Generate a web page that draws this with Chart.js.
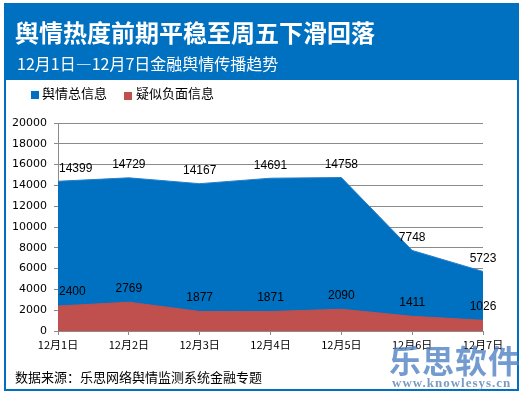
<!DOCTYPE html>
<html lang="zh">

<head>
    <meta charset="UTF-8">
    <title>舆情热度</title>
    <style>
        body { margin: 0; background: #fff; }
        #wrap { position: relative; width: 523px; height: 395px; overflow: hidden; font-family: "Noto Sans CJK SC", sans-serif; }
        #frame { position: absolute; left: 4px; top: 3px; width: 511px; height: 384px; border: 2px solid #0070C0; }
        #head { position: absolute; left: 4px; top: 3px; width: 515px; height: 77px; background: #0070C0; }
        .txt { position: absolute; white-space: nowrap; }
        #title { left: 15px; top: 18px; font-size: 24px; line-height: 28px; font-weight: bold; color: #fff; }
        #subtitle { left: 17px; top: 53px; font-size: 16px; line-height: 20px; color: #fff; }
        .sw { position: absolute; width: 8px; height: 8px; }
        .leg { font-size: 13px; line-height: 16px; color: #000; top: 85px; }
        #source { left: 15px; top: 368px; font-size: 13px; line-height: 18px; color: #000; }
        #wm1 { left: 389px; top: 340px; font-size: 32px; line-height: 38px; font-weight: bold; color: rgba(80, 130, 195, 0.8); letter-spacing: 1px; }
        #wm2 { left: 392px; top: 375px; font-family: "Liberation Serif", serif; font-size: 13px; line-height: 16px; font-weight: bold; color: rgba(90, 130, 180, 0.8); letter-spacing: 1px; }
        canvas { position: absolute; left: 0; top: 0; }
    </style>
</head>

<body>
    <div id="wrap">
        <canvas id="chart" width="523" height="395"></canvas>
        <div id="frame"></div>
        <div id="head"></div>
        <div class="txt" id="title">舆情热度前期平稳至周五下滑回落</div>
        <div class="txt" id="subtitle">12月1日—12月7日金融舆情传播趋势</div>
        <div class="sw" style="left:31px; top:91px; background:#0070C0"></div>
        <div class="txt leg" style="left:42px">舆情总信息</div>
        <div class="sw" style="left:124px; top:92px; background:#C0504D"></div>
        <div class="txt leg" style="left:136px">疑似负面信息</div>
        <div class="txt" id="source">数据来源：乐思网络舆情监测系统金融专题</div>
        <div class="txt" id="wm1">乐思软件</div>
        <div class="txt" id="wm2">www.knowlesys.cn</div>
    </div>

    <script src="https://cdn.jsdelivr.net/npm/chart.js"></script>

    <script>
        const days = ['12月1日', '12月2日', '12月3日', '12月4日', '12月5日', '12月6日', '12月7日'];
        const totalInfo = [14399, 14729, 14167, 14691, 14758, 7748, 5723];
        const negativeInfo = [2400, 2769, 1877, 1871, 2090, 1411, 1026];
        const yTicks = [0, 2000, 4000, 6000, 8000, 10000, 12000, 14000, 16000, 18000, 20000];

        const gridColor = '#8a8a8a';

        // value labels above each point
        const valueLabels = {
            id: 'valueLabels',
            afterDatasetsDraw(chart) {
                const ctx = chart.ctx;
                const left = chart.chartArea.left;
                ctx.save();
                ctx.font = '12px "Liberation Sans", sans-serif';
                ctx.fillStyle = '#000';
                ctx.textAlign = 'center';
                ctx.textBaseline = 'middle';
                chart.data.datasets.forEach((ds, i) => {
                    const meta = chart.getDatasetMeta(i);
                    meta.data.forEach((pt, j) => {
                        const txt = String(ds.data[j]);
                        const w = ctx.measureText(txt).width;
                        const x = Math.max(pt.x, left + w / 2 + 1);
                        ctx.fillText(txt, x, pt.y - ds.labelLift);
                    });
                });
                ctx.restore();
            }
        };

        new Chart(document.getElementById('chart'), {
            type: 'line',
            data: {
                labels: days,
                datasets: [{
                    label: '疑似负面信息',
                    data: negativeInfo,
                    backgroundColor: '#C0504D',
                    borderColor: '#C0504D',
                    borderWidth: 1,
                    fill: 'origin',
                    pointRadius: 0,
                    tension: 0,
                    order: 1,
                    labelLift: 14
                }, {
                    label: '舆情总信息',
                    data: totalInfo,
                    backgroundColor: '#0070C0',
                    borderColor: '#2a7fc8',
                    borderWidth: 1,
                    fill: 'origin',
                    pointRadius: 0,
                    tension: 0,
                    order: 2,
                    labelLift: 13
                }]
            },
            options: {
                responsive: false,
                devicePixelRatio: 1,
                animation: false,
                layout: { padding: { top: 123, right: 40, bottom: 0, left: 0 } },
                plugins: {
                    legend: { display: false },
                    title: { display: false },
                    tooltip: { enabled: false }
                },
                scales: {
                    x: {
                        offset: false,
                        afterFit: s => { s.height = 64; },
                        grid: { drawOnChartArea: false, drawTicks: true, tickLength: 4, color: gridColor },
                        border: { color: gridColor },
                        ticks: {
                            color: '#000',
                            padding: 3,
                            maxRotation: 0,
                            font: { family: '"Noto Sans CJK SC"', size: 11 }
                        }
                    },
                    y: {
                        min: yTicks[0],
                        max: yTicks[yTicks.length - 1],
                        afterFit: s => { s.width = 58; },
                        afterBuildTicks: s => { s.ticks = yTicks.map(v => ({ value: v })); },
                        grid: { color: gridColor, tickLength: 4 },
                        border: { color: gridColor },
                        ticks: {
                            color: '#000',
                            padding: 7,
                            callback: v => String(v),
                            font: { family: '"DejaVu Sans"', size: 11 }
                        }
                    }
                }
            },
            plugins: [valueLabels]
        });
    </script>
</body>

</html>
